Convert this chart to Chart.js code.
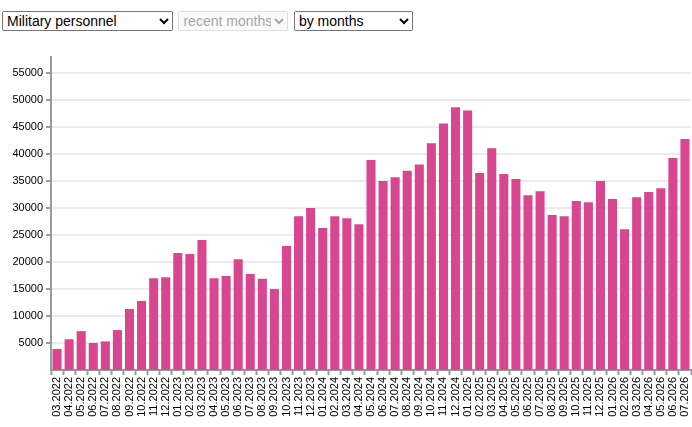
<!DOCTYPE html>
<html>
<head>
<meta charset="utf-8">
<script src="https://cdn.jsdelivr.net/npm/chart.js@4"></script>
<style>
    body { margin: 0; background: #fff; font-family: "Liberation Sans", Arial, sans-serif; }
    .controls { position: absolute; left: 2px; top: 11px; }
    .controls select {
        font-family: "Liberation Sans", Arial, sans-serif;
        font-size: 14px;
        height: 20px;
        margin-right: 1px;
        vertical-align: top;
    }
    #chartBox { position: absolute; left: 0; top: 40px; width: 692px; height: 387px; }
</style>
</head>
<body>
<div class="controls">
    <select id="metric" style="width:171px"><option>Military personnel</option></select>
    <select id="range" style="width:110px" disabled><option>recent months</option></select>
    <select id="period" style="width:119px"><option>by months</option></select>
</div>
<div id="chartBox"><canvas id="personnel"></canvas></div>
<script>
// Months shown on the x axis
const months = [
    '03.2022', '04.2022', '05.2022', '06.2022', '07.2022', '08.2022', '09.2022', '10.2022', '11.2022', '12.2022',
    '01.2023', '02.2023', '03.2023', '04.2023', '05.2023', '06.2023', '07.2023', '08.2023', '09.2023', '10.2023', '11.2023', '12.2023',
    '01.2024', '02.2024', '03.2024', '04.2024', '05.2024', '06.2024', '07.2024', '08.2024', '09.2024', '10.2024', '11.2024', '12.2024',
    '01.2025', '02.2025', '03.2025', '04.2025', '05.2025', '06.2025', '07.2025', '08.2025', '09.2025', '10.2025', '11.2025', '12.2025',
    '01.2026', '02.2026', '03.2026', '04.2026', '05.2026', '06.2026', '07.2026'
];

// Personnel per month
const personnel = [
    3900, 5700, 7200, 5000, 5300, 7400, 11300, 12800, 17000, 17200,
    21700, 21500, 24100, 17000, 17400, 20500, 17800, 16900, 15000, 23000, 28500, 30000,
    26300, 28500, 28100, 27000, 38900, 35000, 35700, 36900, 38100, 42000, 45700, 48700,
    48100, 36500, 41100, 36300, 35400, 32400, 33100, 28700, 28500, 31300, 31100, 35000,
    31700, 26100, 32000, 33000, 33700, 39300, 42800
];

// Y axis tick labels
const yTicks = [5000, 10000, 15000, 20000, 25000, 30000, 35000, 40000, 45000, 50000, 55000];
const yMax = 58000;

const axisGrey = '#9a9a9a';
const barColor = '#d94690';
const fontFamily = '"Liberation Sans", Arial, sans-serif';

new Chart(document.getElementById('personnel'), {
    type: 'bar',
    data: {
        labels: months,
        datasets: [{
            label: 'Military personnel',
            data: personnel,
            backgroundColor: barColor,
            barPercentage: 0.75,
            categoryPercentage: 1
        }]
    },
    options: {
        responsive: true,
        maintainAspectRatio: false,
        animation: false,
        layout: { padding: { top: 17, right: 1, left: 0, bottom: 0 } },
        plugins: {
            legend: { display: false },
            tooltip: { enabled: false }
        },
        scales: {
            x: {
                offset: true,
                border: { color: axisGrey, width: 2 },
                grid: {
                    drawOnChartArea: false,
                    tickLength: 5,
                    tickColor: axisGrey,
                    tickWidth: 2
                },
                ticks: {
                    autoSkip: false,
                    minRotation: 90,
                    maxRotation: 90,
                    padding: 2,
                    color: '#000',
                    font: { family: fontFamily, size: 11 }
                },
                afterFit: (scale) => {
                    scale.height = 57;
                    // let the last bar run up to the right edge like the original
                    scale.paddingLeft = 0;
                    scale.paddingRight = 0;
                }
            },
            y: {
                min: 0,
                max: yMax,
                border: { color: axisGrey, width: 2 },
                grid: {
                    color: '#ebebeb',
                    lineWidth: 2,
                    tickLength: 5,
                    tickColor: axisGrey,
                    tickWidth: 2
                },
                ticks: {
                    autoSkip: false,
                    padding: 3,
                    color: '#000',
                    font: { family: fontFamily, size: 11 },
                    callback: (value) => String(value)
                },
                afterBuildTicks: (scale) => {
                    scale.ticks = yTicks.map(v => ({ value: v }));
                },
                afterFit: (scale) => { scale.width = 51; }
            }
        }
    }
});
</script>
</body>
</html>
